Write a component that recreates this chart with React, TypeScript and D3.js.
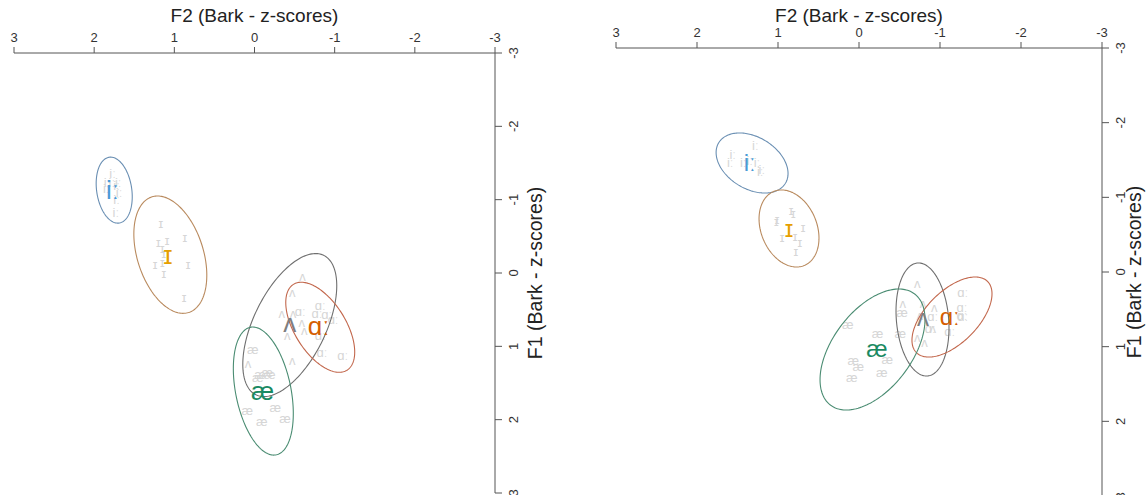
import React from "react";
import * as d3 from "d3";

// ---------- data ----------
const vowels = ["iː", "ɪ", "ʌ", "ɑː", "æ"];
const meanColors = ["#4a9ad6", "#e69f00", "#7f7f7f", "#d55e00", "#1a8a62"];
const ellColors = ["#6a8fb3", "#b98a5e", "#6f6f6f", "#c2674c", "#4a8c72"];
const ticks = [3, 2, 1, 0, -1, -2, -3];
const f1Ticks = [-3, -2, -1, 0, 1, 2, 3];

// Left panel
const leftMeanF2 = [1.77, 1.08, -0.44, -0.8, -0.1];
const leftMeanF1 = [-1.13, -0.25, 0.68, 0.72, 1.61];
const leftEllF2 = [1.75, 1.05, -0.44, -0.82, -0.11];
const leftEllF1 = [-1.13, -0.25, 0.71, 0.74, 1.61];
const leftSdF2 = [0.225, 0.455, 0.586, 0.43, 0.374];
const leftSdF1 = [0.45, 0.8, 0.975, 0.614, 0.873];
const leftRho = [-0.2, -0.35, 0.55, -0.55, -0.35];

const leftTokI2 = [1.84, 1.85, 1.77, 1.78, 1.7, 1.72, 1.72, 1.69, 1.73];
const leftTokI1 = [-1.23, -1.15, -1.36, -1.23, -1.24, -1.19, -1.0, -1.1, -0.83];
const leftTokIh2 = [1.17, 1.2, 1.09, 0.87, 1.15, 1.13, 1.24, 1.15, 0.83, 1.13, 0.88];
const leftTokIh1 = [-0.67, -0.42, -0.44, -0.48, -0.33, -0.27, -0.12, -0.14, -0.12, 0.0, 0.33];
const leftTokV2 = [-0.6, -0.47, -0.34, -0.48, -0.59, -0.62, -0.41, -0.47, 0.08];
const leftTokV1 = [0.05, 0.27, 0.55, 0.55, 0.67, 0.78, 0.85, 1.19, 1.23];
const leftTokA2 = [-0.82, -0.57, -0.78, -0.9, -0.98, -0.82, -0.84, -1.1];
const leftTokA1 = [0.44, 0.53, 0.55, 0.57, 0.64, 0.85, 1.09, 1.12];
const leftTokAe2 = [0.02, -0.07, -0.16, -0.19, -0.04, 0.09, -0.26, -0.38, -0.09];
const leftTokAe1 = [1.04, 1.39, 1.36, 1.39, 1.42, 1.87, 1.83, 1.98, 2.03];

// Right panel
const rightMeanF2 = [1.35, 0.864, -0.79, -1.12, -0.22];
const rightMeanF1 = [-1.46, -0.576, 0.616, 0.59, 1.03];
const rightEllF2 = [1.32, 0.864, -0.784, -1.148, -0.167];
const rightEllF1 = [-1.46, -0.583, 0.636, 0.603, 1.038];
const rightSdF2 = [0.444, 0.37, 0.327, 0.494, 0.648];
const rightSdF1 = [0.402, 0.516, 0.757, 0.536, 0.81];
const rightRho = [-0.35, -0.25, -0.15, 0.58, 0.5];

const rightTokI2 = [1.56, 1.59, 1.43, 1.28, 1.26, 1.22, 1.2, 1.35];
const rightTokI1 = [-1.57, -1.46, -1.47, -1.7, -1.46, -1.34, -1.37, -1.5];
const rightTokIh2 = [1.01, 1.02, 0.84, 0.81, 0.69, 0.95, 0.79, 0.73, 0.78];
const rightTokIh1 = [-0.7, -0.67, -0.82, -0.78, -0.6, -0.46, -0.48, -0.39, -0.27];
const rightTokV2 = [-0.72, -0.54, -0.79, -0.93, -0.91, -0.72, -0.81, -0.75];
const rightTokV1 = [0.15, 0.42, 0.42, 0.48, 0.75, 0.88, 0.94, 0.58];
const rightTokA2 = [-1.28, -1.27, -1.27, -0.91, -0.88, -1.12, -1.28];
const rightTokA1 = [0.27, 0.48, 0.58, 0.6, 0.75, 0.8, 0.6];
const rightTokAe2 = [0.14, -0.23, -0.51, -0.53, 0.07, 0.01, -0.35, 0.09, -0.28];
const rightTokAe1 = [0.7, 0.82, 0.82, 0.54, 1.18, 1.27, 1.17, 1.41, 1.35];

const FONT = "'Liberation Sans', Arial, Helvetica, sans-serif";

type PanelProps = {
  x0: number; x1: number; y0: number; y1: number;
  meanF2: number[]; meanF1: number[];
  ellF2: number[]; ellF1: number[]; sdF2: number[]; sdF1: number[]; rho: number[];
  tok2: number[][]; tok1: number[][];
  f1LabelX: number; meanSize: number;
};

function Panel(p: PanelProps) {
  const xs = d3.scaleLinear().domain([3, -3]).range([p.x0, p.x1]);
  const ys = d3.scaleLinear().domain([-3, 3]).range([p.y0, p.y1]);
  const line = d3.line<[number, number]>().x(d => xs(d[0])).y(d => ys(d[1])).curve(d3.curveLinearClosed);
  const ts = d3.range(0, 2 * Math.PI, Math.PI / 90);
  const axisCol = "#555";
  const textCol = "#333";
  return (
    <g fontFamily={FONT}>
      {/* title */}
      <text x={(p.x0 + p.x1) / 2} y={22} textAnchor="middle" fontSize={19} fill="#222">F2 (Bark - z-scores)</text>
      {/* top axis */}
      <line x1={p.x0} x2={p.x1} y1={p.y0} y2={p.y0} stroke={axisCol} strokeWidth={1} />
      {ticks.map(t => (
        <g key={"tx" + t}>
          <line x1={xs(t)} x2={xs(t)} y1={p.y0} y2={p.y0 - 6} stroke={axisCol} />
          <text x={xs(t)} y={p.y0 - 11} textAnchor="middle" fontSize={13} fill={textCol}>{t}</text>
        </g>
      ))}
      {/* right axis */}
      <line x1={p.x1} x2={p.x1} y1={p.y0} y2={p.y1} stroke={axisCol} strokeWidth={1} />
      {f1Ticks.map(t => (
        <g key={"ty" + t}>
          <line x1={p.x1} x2={p.x1 + 7} y1={ys(t)} y2={ys(t)} stroke={axisCol} />
          <text transform={`translate(${p.x1 + 18},${ys(t)}) rotate(-90)`} textAnchor="middle" dominantBaseline="central" fontSize={13} fill={textCol}>{t}</text>
        </g>
      ))}
      <text transform={`translate(${p.f1LabelX},${(p.y0 + p.y1) / 2}) rotate(-90)`} textAnchor="middle" dominantBaseline="central" fontSize={19.5} fill="#222">F1 (Bark - z-scores)</text>
      {/* tokens */}
      {vowels.map((v, i) => (
        <g key={"tok" + i}>
          {p.tok2[i].map((f2, j) => (
            <text key={j} x={xs(f2)} y={ys(p.tok1[i][j])} textAnchor="middle" dominantBaseline="central" fontSize={13} fill="#d6d6d6">{v}</text>
          ))}
        </g>
      ))}
      {/* ellipses */}
      {vowels.map((v, i) => {
        const pts: [number, number][] = ts.map(t => [
          p.ellF2[i] + p.sdF2[i] * Math.cos(t),
          p.ellF1[i] + p.sdF1[i] * (p.rho[i] * Math.cos(t) + Math.sqrt(1 - p.rho[i] * p.rho[i]) * Math.sin(t)),
        ]);
        return <path key={"e" + i} d={line(pts) || ""} fill="none" stroke={ellColors[i]} strokeWidth={1.1} />;
      })}
      {/* means */}
      {vowels.map((v, i) => (
        <text key={"m" + i} x={xs(p.meanF2[i])} y={ys(p.meanF1[i])} textAnchor="middle" dominantBaseline="central" fontSize={p.meanSize} fill={meanColors[i]}>{v}</text>
      ))}
    </g>
  );
}

export default function App() {
  return (
    <svg width={1147} height={495} style={{ position: "absolute", left: 0, top: 0, background: "#fff" }}>
      <Panel x0={14} x1={495} y0={53} y1={493}
        meanF2={leftMeanF2} meanF1={leftMeanF1}
        ellF2={leftEllF2} ellF1={leftEllF1} sdF2={leftSdF2} sdF1={leftSdF1} rho={leftRho}
        tok2={[leftTokI2, leftTokIh2, leftTokV2, leftTokA2, leftTokAe2]}
        tok1={[leftTokI1, leftTokIh1, leftTokV1, leftTokA1, leftTokAe1]}
        f1LabelX={535} meanSize={26} />
      <Panel x0={616} x1={1102} y0={48} y1={496}
        meanF2={rightMeanF2} meanF1={rightMeanF1}
        ellF2={rightEllF2} ellF1={rightEllF1} sdF2={rightSdF2} sdF1={rightSdF1} rho={rightRho}
        tok2={[rightTokI2, rightTokIh2, rightTokV2, rightTokA2, rightTokAe2]}
        tok1={[rightTokI1, rightTokIh1, rightTokV1, rightTokA1, rightTokAe1]}
        f1LabelX={1134} meanSize={24} />
    </svg>
  );
}
